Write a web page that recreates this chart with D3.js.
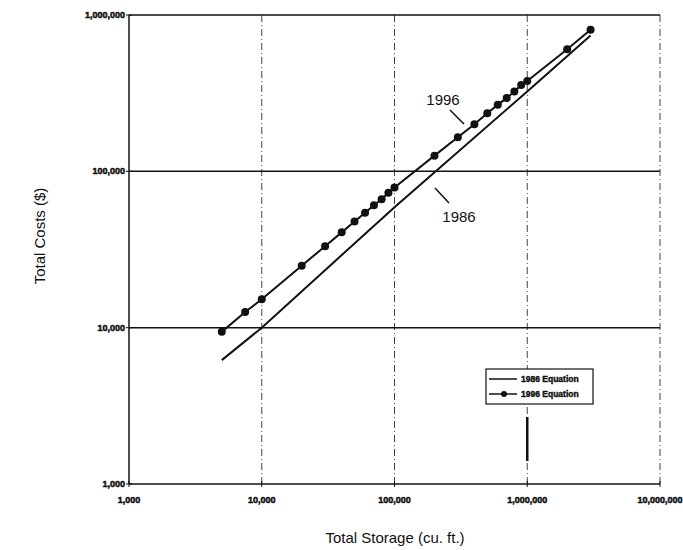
<!DOCTYPE html>
<html>
<head>
<meta charset="utf-8">
<script src="https://cdn.jsdelivr.net/npm/d3@7"></script>
<style>
  body { margin: 0; background: #fff; }
  svg { display: block; }
  .tick-label { font-family: "Liberation Sans", Arial, sans-serif; font-weight: bold; font-size: 9px; fill: #111; stroke: #111; stroke-width: 0.5px; }
  .axis-title { font-family: "Liberation Sans", Arial, sans-serif; font-size: 15px; fill: #111; }
  .note { font-family: "Liberation Sans", Arial, sans-serif; font-size: 15px; fill: #111; }
  .legend-text { font-family: "Liberation Sans", Arial, sans-serif; font-weight: bold; font-size: 8.5px; fill: #111; stroke: #111; stroke-width: 0.4px; }
</style>
</head>
<body>
<div id="chart"></div>
<script>
/* Total cost vs total storage, log-log, 1986 and 1996 cost equations. */

var storage1996 = [5000, 7500, 10000, 20000, 30000, 40000, 50000, 60000, 70000, 80000, 90000, 100000,
  200000, 300000, 400000, 500000, 600000, 700000, 800000, 900000, 1000000, 2000000, 3000000];
var cost1996 = [9400, 12600, 15200, 24900, 33200, 40700, 47700, 54300, 60600, 66400, 72900, 78900,
  126000, 165000, 200000, 235000, 267000, 294000, 324000, 356000, 378000, 604000, 806000];

var storage1986 = [5000, 10000, 100000, 1000000, 3000000];
var cost1986 = [6200, 10000, 59000, 324000, 739000];

var xTicks = [1000, 10000, 100000, 1000000, 10000000];
var xTickLabels = ["1,000", "10,000", "100,000", "1,000,000", "10,000,000"];
var yTicks = [1000, 10000, 100000, 1000000];
var yTickLabels = ["1,000", "10,000", "100,000", "1,000,000"];

var legendLabels = ["1986 Equation", "1996 Equation"];

var W = 683, H = 550;
var svg = d3.select("#chart").append("svg").attr("width", W).attr("height", H);

var x = d3.scaleLog().domain([1000, 10000000]).range([129, 660]);
var y = d3.scaleLog().domain([1000, 1000000]).range([484, 15]);

// vertical grid (dashed, light)
svg.append("g").selectAll("line").data(xTicks.slice(1)).enter().append("line")
  .attr("x1", function (d) { return x(d); }).attr("x2", function (d) { return x(d); })
  .attr("y1", y(1000000)).attr("y2", y(1000))
  .attr("stroke", "#444").attr("stroke-width", 1)
  .attr("stroke-dasharray", "7,3,1,3");

// horizontal grid (solid), includes top border
svg.append("g").selectAll("line").data(yTicks.slice(1)).enter().append("line")
  .attr("x1", x(1000)).attr("x2", x(10000000))
  .attr("y1", function (d) { return y(d); }).attr("y2", function (d) { return y(d); })
  .attr("stroke", "#111").attr("stroke-width", 1.5);

// left and bottom axes
svg.append("line").attr("x1", x(1000)).attr("x2", x(1000)).attr("y1", y(1000000)).attr("y2", y(1000))
  .attr("stroke", "#111").attr("stroke-width", 1.5);
svg.append("line").attr("x1", x(1000)).attr("x2", x(10000000)).attr("y1", y(1000)).attr("y2", y(1000))
  .attr("stroke", "#111").attr("stroke-width", 1.5);

// tick marks
svg.append("g").selectAll("line").data(xTicks).enter().append("line")
  .attr("x1", function (d) { return x(d); }).attr("x2", function (d) { return x(d); })
  .attr("y1", y(1000) - 3).attr("y2", y(1000) + 3)
  .attr("stroke", "#111").attr("stroke-width", 1);
svg.append("g").selectAll("line").data(yTicks).enter().append("line")
  .attr("x1", x(1000) - 3).attr("x2", x(1000) + 3)
  .attr("y1", function (d) { return y(d); }).attr("y2", function (d) { return y(d); })
  .attr("stroke", "#111").attr("stroke-width", 1);

// tick labels
svg.append("g").selectAll("text").data(xTicks).enter().append("text")
  .attr("class", "tick-label")
  .attr("x", function (d) { return x(d); }).attr("y", 503)
  .attr("text-anchor", "middle")
  .text(function (d, i) { return xTickLabels[i]; });
svg.append("g").selectAll("text").data(yTicks).enter().append("text")
  .attr("class", "tick-label")
  .attr("x", 125).attr("y", function (d) { return y(d) + 3; })
  .attr("text-anchor", "end")
  .text(function (d, i) { return yTickLabels[i]; });

// axis titles
svg.append("text").attr("class", "axis-title")
  .attr("x", 395).attr("y", 543).attr("text-anchor", "middle")
  .text("Total Storage (cu. ft.)");
svg.append("text").attr("class", "axis-title")
  .attr("transform", "translate(45,236) rotate(-90)").attr("text-anchor", "middle")
  .text("Total Costs ($)");

var line = d3.line()
  .x(function (d) { return x(d[0]); })
  .y(function (d) { return y(d[1]); });

var pts1986 = storage1986.map(function (s, i) { return [s, cost1986[i]]; });
var pts1996 = storage1996.map(function (s, i) { return [s, cost1996[i]]; });

svg.append("path").datum(pts1986)
  .attr("fill", "none").attr("stroke", "#111").attr("stroke-width", 2).attr("d", line);
svg.append("path").datum(pts1996)
  .attr("fill", "none").attr("stroke", "#111").attr("stroke-width", 2).attr("d", line);
svg.append("g").selectAll("circle").data(pts1996).enter().append("circle")
  .attr("cx", function (d) { return x(d[0]); })
  .attr("cy", function (d) { return y(d[1]); })
  .attr("r", 4).attr("fill", "#111");

// annotations
svg.append("text").attr("class", "note").attr("x", 443).attr("y", 105).attr("text-anchor", "middle").text("1996");
svg.append("line").attr("x1", 450).attr("y1", 110).attr("x2", 464).attr("y2", 124)
  .attr("stroke", "#111").attr("stroke-width", 1.5);
svg.append("text").attr("class", "note").attr("x", 459).attr("y", 222).attr("text-anchor", "middle").text("1986");
svg.append("line").attr("x1", 435).attr("y1", 188).attr("x2", 449).attr("y2", 203)
  .attr("stroke", "#111").attr("stroke-width", 1.5);

// legend
var lg = svg.append("g").attr("transform", "translate(486,369)");
lg.append("rect").attr("width", 107).attr("height", 35)
  .attr("fill", "#fff").attr("stroke", "#111").attr("stroke-width", 1.2);
legendLabels.forEach(function (t, i) {
  var ly = 10 + i * 15;
  lg.append("line").attr("x1", 3).attr("x2", 31).attr("y1", ly).attr("y2", ly)
    .attr("stroke", "#111").attr("stroke-width", 1.5);
  if (i === 1) lg.append("circle").attr("cx", 18).attr("cy", ly).attr("r", 3).attr("fill", "#111");
  lg.append("text").attr("class", "legend-text").attr("x", 35).attr("y", ly + 3).text(t);
});

// heavy segment on the 1,000,000 gridline below the legend
svg.append("line").attr("x1", x(1000000)).attr("x2", x(1000000)).attr("y1", 417).attr("y2", 461)
  .attr("stroke", "#111").attr("stroke-width", 2.5);
</script>
</body>
</html>
